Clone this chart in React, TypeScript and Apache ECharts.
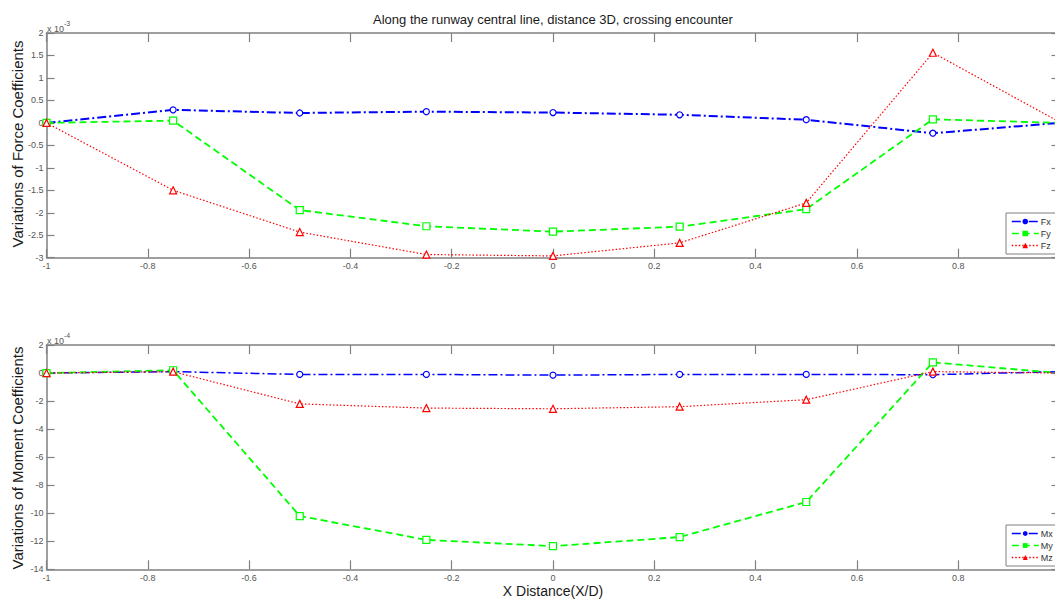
import React, { useEffect, useRef } from "react";
import * as echarts from "echarts";

const xPositions = [-1, -0.75, -0.5, -0.25, 0, 0.25, 0.5, 0.75, 1];
// force coefficients, in units of 1e-3
const fx = [0, 0.29, 0.22, 0.25, 0.23, 0.18, 0.07, -0.23, 0.0];
const fy = [0, 0.05, -1.94, -2.3, -2.42, -2.31, -1.92, 0.08, 0.0];
const fz = [0, -1.5, -2.43, -2.93, -2.96, -2.67, -1.78, 1.56, 0.02];
// moment coefficients, in units of 1e-4
const mx = [0, 0.1, -0.1, -0.1, -0.15, -0.1, -0.1, -0.12, 0.1];
const my = [0, 0.2, -10.2, -11.9, -12.35, -11.7, -9.2, 0.76, 0.0];
const mz = [0, 0.1, -2.2, -2.5, -2.55, -2.4, -1.9, 0.1, 0.0];

const forceNames = ["Fx", "Fy", "Fz"];
const momentNames = ["Mx", "My", "Mz"];

const titleText = "Along the runway central line, distance 3D, crossing encounter";
const forceLabel = "Variations of Force Coefficients";
const momentLabel = "Variations of Moment Coefficients";
const xLabel = "X Distance(X/D)";

const BLUE = "#0000ff";
const GREEN = "#00ff00";
const RED = "#ff0000";
const AXIS = "#808080";
const FONT = "'Liberation Sans', Arial, sans-serif";

const DASHDOT = [9, 3, 2, 3];
const DASHED = [7, 4];
const DOTTED = [1.5, 2];

function pairs(ys: number[]) {
  return ys.map((y, i) => [xPositions[i], y]);
}

function mkSeries(
  name: string,
  ys: number[],
  axis: number,
  color: string,
  symbol: string,
  size: number,
  dash: number[],
  width: number
) {
  return {
    name,
    type: "line",
    xAxisIndex: axis,
    yAxisIndex: axis,
    data: pairs(ys),
    symbol,
    symbolSize: size,
    showSymbol: true,
    lineStyle: { color, width, type: dash },
    itemStyle: { color: "#ffffff", borderColor: color, borderWidth: 1.2 },
    emphasis: { disabled: true },
    z: 3,
  };
}

function xAxes(grid: number) {
  const common = {
    type: "value",
    gridIndex: grid,
    min: -1,
    max: 1,
    interval: 0.2,
    splitLine: { show: false },
    axisLine: { show: true, onZero: false, lineStyle: { color: AXIS, width: 1.5 } },
    axisTick: { show: true, inside: true, length: 9, lineStyle: { color: AXIS, width: 1.2 } },
  };
  return [
    {
      ...common,
      position: "bottom",
      axisLabel: {
        show: true,
        color: "#555",
        fontSize: 9,
        fontFamily: FONT,
        margin: 4,
        showMaxLabel: false,
      },
    },
    { ...common, position: "top", axisLabel: { show: false } },
  ];
}

function yAxes(grid: number, min: number, max: number, interval: number) {
  const common = {
    type: "value",
    gridIndex: grid,
    min,
    max,
    interval,
    splitLine: { show: false },
    axisLine: { show: true, onZero: false, lineStyle: { color: AXIS, width: 1.5 } },
    axisTick: { show: true, inside: true, length: 8, lineStyle: { color: AXIS, width: 1.2 } },
  };
  return [
    {
      ...common,
      position: "left",
      axisLabel: { show: true, color: "#555", fontSize: 9, fontFamily: FONT, margin: 3 },
    },
    { ...common, position: "right", axisLabel: { show: false } },
  ];
}

const legendStyles = [
  { color: BLUE, symbol: "circle", dash: DASHDOT },
  { color: GREEN, symbol: "rect", dash: DASHED },
  { color: RED, symbol: "triangle", dash: DOTTED },
];

function legend(names: string[], top: number, itemHeight: number) {
  return {
    orient: "vertical",
    left: 1006,
    top,
    data: names.map((n, i) => ({
      name: n,
      itemStyle: { color: legendStyles[i].color, borderColor: legendStyles[i].color, borderWidth: 0 },
      lineStyle: { color: legendStyles[i].color, width: 1.5, type: legendStyles[i].dash },
    })),
    backgroundColor: "#ffffff",
    borderColor: AXIS,
    borderWidth: 1,
    padding: [4, 30, 4, 5],
    itemGap: 3,
    itemWidth: 27,
    itemHeight,
    textStyle: { fontSize: 9, color: "#333", fontFamily: FONT, padding: [0, 0, 0, -3] },
    selectedMode: false,
  };
}

export default function App() {
  const ref = useRef<HTMLDivElement>(null);
  useEffect(() => {
    if (!ref.current) return;
    const chart = echarts.init(ref.current, undefined, { renderer: "svg" });
    chart.setOption({
      animation: false,
      backgroundColor: "#ffffff",
      grid: [
        { left: 46.5, top: 33, width: 1013, height: 224.7, outerBoundsMode: "none", containLabel: false },
        { left: 46.5, top: 345, width: 1013, height: 224.3, outerBoundsMode: "none", containLabel: false },
      ],
      xAxis: [...xAxes(0), ...xAxes(1)],
      yAxis: [...yAxes(0, -3, 2, 0.5), ...yAxes(1, -14, 2, 2)],
      legend: [legend(forceNames, 213, 7), legend(momentNames, 525, 6)],
      series: [
        mkSeries("Fx", fx, 0, BLUE, "circle", 6, DASHDOT, 2),
        mkSeries("Fy", fy, 0, GREEN, "rect", 7, DASHED, 1.8),
        mkSeries("Fz", fz, 0, RED, "triangle", 7, DOTTED, 1.2),
        mkSeries("Mx", mx, 2, BLUE, "circle", 6, DASHDOT, 1.5),
        mkSeries("My", my, 2, GREEN, "rect", 7, DASHED, 1.8),
        mkSeries("Mz", mz, 2, RED, "triangle", 7, DOTTED, 1.2),
      ],
      graphic: [
        {
          type: "text",
          x: 553,
          y: 19,
          style: {
            text: titleText,
            fontSize: 13,
            fontFamily: FONT,
            fill: "#1a1a1a",
            textAlign: "center",
            textVerticalAlign: "middle",
          },
        },
        {
          type: "text",
          x: 17,
          y: 144,
          rotation: Math.PI / 2,
          style: {
            text: forceLabel,
            fontSize: 15,
            fontFamily: FONT,
            fill: "#1a1a1a",
            textAlign: "center",
            textVerticalAlign: "middle",
          },
        },
        {
          type: "text",
          x: 17,
          y: 458,
          rotation: Math.PI / 2,
          style: {
            text: momentLabel,
            fontSize: 15,
            fontFamily: FONT,
            fill: "#1a1a1a",
            textAlign: "center",
            textVerticalAlign: "middle",
          },
        },
        {
          type: "text",
          x: 553,
          y: 591,
          style: {
            text: xLabel,
            fontSize: 14,
            fontFamily: FONT,
            fill: "#1a1a1a",
            textAlign: "center",
            textVerticalAlign: "middle",
          },
        },
        {
          type: "text",
          x: 47,
          y: 20,
          style: {
            text: "{a|x 10}{b|-3}",
            rich: {
              a: { fontSize: 9, fontFamily: FONT, fill: "#555", verticalAlign: "bottom" },
              b: { fontSize: 7, fontFamily: FONT, fill: "#555", verticalAlign: "top", padding: [0, 0, 6, 0] },
            },
          },
        },
        {
          type: "text",
          x: 47,
          y: 332,
          style: {
            text: "{a|x 10}{b|-4}",
            rich: {
              a: { fontSize: 9, fontFamily: FONT, fill: "#555", verticalAlign: "bottom" },
              b: { fontSize: 7, fontFamily: FONT, fill: "#555", verticalAlign: "top", padding: [0, 0, 6, 0] },
            },
          },
        },
      ],
    });
    return () => chart.dispose();
  }, []);
  return (
    <div
      ref={ref}
      style={{ position: "fixed", left: 0, top: 0, width: 1055, height: 599, overflow: "hidden" }}
    />
  );
}
